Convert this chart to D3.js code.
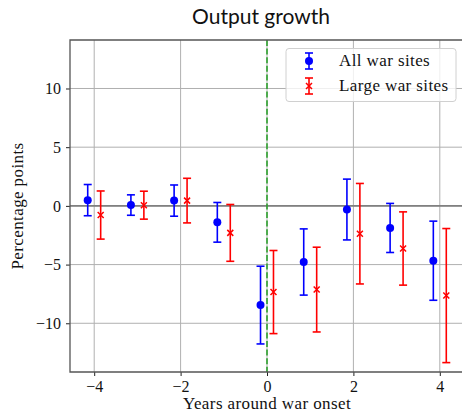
<!DOCTYPE html>
<html>
<head>
<meta charset="utf-8">
<script src="https://cdn.jsdelivr.net/npm/d3@7/dist/d3.min.js"></script>
<style>
  html, body { margin: 0; padding: 0; background: #fff; }
  svg { display: block; }
</style>
</head>
<body>
<svg id="chart" width="462" height="414"></svg>
<script>
// Event-study estimates: years relative to war onset
const years = [-4, -3, -2, -1, 0, 1, 2, 3, 4];

// All war sites: point estimate and half-width of the confidence interval
const allSites = [0.49, 0.07, 0.45, -1.40, -8.45, -4.78, -0.31, -1.88, -4.67];
const allSitesErr = [1.33, 0.87, 1.33, 1.69, 3.31, 2.82, 2.59, 2.09, 3.37];

// Large war sites
const largeSites = [-0.78, 0.06, 0.45, -2.30, -7.34, -7.13, -2.37, -3.63, -7.64];
const largeSitesErr = [2.05, 1.19, 1.90, 2.42, 3.54, 3.61, 4.28, 3.12, 5.71];

const xTicks = [-4, -2, 0, 2, 4];
const yTicks = [-10, -5, 0, 5, 10];

const title = "Output growth";
const xLabel = "Years around war onset";
const yLabel = "Percentage points";
const seriesNames = ["All war sites", "Large war sites"];

const svg = d3.select("#chart");
const plot = { left: 70, right: 464, top: 40, bottom: 372 };

const x = d3.scaleLinear().domain([-4.56, 4.56]).range([plot.left, plot.right]);
const y = d3.scaleLinear().domain([-14.15, 14.13]).range([plot.bottom, plot.top]);

const serif = "'Liberation Serif', 'Times New Roman', serif";
const sans = "Lato, 'Open Sans', sans-serif";

// Grid
const grid = svg.append("g");
grid.selectAll("line.vx").data(xTicks).join("line")
  .attr("x1", d => x(d)).attr("x2", d => x(d))
  .attr("y1", plot.top).attr("y2", plot.bottom)
  .attr("stroke", "#b0b0b0").attr("stroke-width", 1);
grid.selectAll("line.hy").data(yTicks).join("line")
  .attr("x1", plot.left).attr("x2", plot.right)
  .attr("y1", d => y(d)).attr("y2", d => y(d))
  .attr("stroke", "#b0b0b0").attr("stroke-width", 1);

// Zero reference line
svg.append("line")
  .attr("x1", plot.left).attr("x2", plot.right)
  .attr("y1", y(0)).attr("y2", y(0))
  .attr("stroke", "#808080").attr("stroke-width", 1.6);

// War onset marker
svg.append("line")
  .attr("x1", x(0)).attr("x2", x(0))
  .attr("y1", plot.top).attr("y2", plot.bottom)
  .attr("stroke", "#2ca02c").attr("stroke-width", 1.6)
  .attr("stroke-dasharray", "6,2.6");

// Axes
const xAxis = d3.axisBottom(x).tickValues(xTicks).tickSize(4).tickPadding(5)
  .tickFormat(d => d < 0 ? "\u2212" + Math.abs(d) : d);
const yAxis = d3.axisLeft(y).tickValues(yTicks).tickSize(4).tickPadding(5)
  .tickFormat(d => d < 0 ? "\u2212" + Math.abs(d) : d);

const gx = svg.append("g").attr("transform", `translate(0,${plot.bottom})`).call(xAxis);
const gy = svg.append("g").attr("transform", `translate(${plot.left},0)`).call(yAxis);
[gx, gy].forEach(g => {
  g.select(".domain").remove();
  g.selectAll(".tick line").attr("stroke", "#222").attr("stroke-width", 1);
  g.selectAll(".tick text").attr("fill", "#111")
    .style("font-family", serif).style("font-size", "16px");
});

// Frame
svg.append("path")
  .attr("d", `M${plot.right},${plot.top}H${plot.left}V${plot.bottom}H${plot.right}`)
  .attr("fill", "none").attr("stroke", "#555").attr("stroke-width", 1.3);

// Error bars
const offset = 0.15;
const cap = 4;
function drawSeries(vals, errs, dx, color, marker) {
  const g = svg.append("g");
  const data = years.map((yr, i) => ({ yr, v: vals[i], e: errs[i] }));
  const bars = g.selectAll("g").data(data).join("g")
    .attr("transform", d => `translate(${x(d.yr + dx)},0)`);
  bars.append("line")
    .attr("y1", d => y(d.v + d.e)).attr("y2", d => y(d.v - d.e))
    .attr("stroke", color).attr("stroke-width", 1.6);
  bars.append("line")
    .attr("x1", -cap).attr("x2", cap)
    .attr("y1", d => y(d.v + d.e)).attr("y2", d => y(d.v + d.e))
    .attr("stroke", color).attr("stroke-width", 1.6);
  bars.append("line")
    .attr("x1", -cap).attr("x2", cap)
    .attr("y1", d => y(d.v - d.e)).attr("y2", d => y(d.v - d.e))
    .attr("stroke", color).attr("stroke-width", 1.6);
  if (marker === "dot") {
    bars.append("circle").attr("cy", d => y(d.v)).attr("r", 4).attr("fill", color);
  } else {
    bars.append("path")
      .attr("d", d => { const c = y(d.v), s = 3; return `M${-s},${c - s}L${s},${c + s}M${-s},${c + s}L${s},${c - s}`; })
      .attr("stroke", color).attr("stroke-width", 1.5).attr("fill", "none");
  }
}
drawSeries(allSites, allSitesErr, -offset, "#0000ff", "dot");
drawSeries(largeSites, largeSitesErr, offset, "#ff0000", "x");

// Legend
const leg = svg.append("g");
leg.append("rect")
  .attr("x", 286).attr("y", 48.5).attr("width", 170).attr("height", 53)
  .attr("rx", 3).attr("fill", "#fff").attr("fill-opacity", 0.8)
  .attr("stroke", "#d0d0d0").attr("stroke-width", 1);
const legRows = [
  { name: seriesNames[0], color: "#0000ff", marker: "dot", cy: 61 },
  { name: seriesNames[1], color: "#ff0000", marker: "x", cy: 86 }
];
legRows.forEach(r => {
  const g = leg.append("g").attr("transform", `translate(309,${r.cy})`);
  g.append("line").attr("y1", -8).attr("y2", 8).attr("stroke", r.color).attr("stroke-width", 1.6);
  g.append("line").attr("x1", -cap).attr("x2", cap).attr("y1", -8).attr("y2", -8).attr("stroke", r.color).attr("stroke-width", 1.6);
  g.append("line").attr("x1", -cap).attr("x2", cap).attr("y1", 8).attr("y2", 8).attr("stroke", r.color).attr("stroke-width", 1.6);
  if (r.marker === "dot") {
    g.append("circle").attr("r", 4).attr("fill", r.color);
  } else {
    g.append("path").attr("d", "M-3,-3L3,3M-3,3L3,-3").attr("stroke", r.color).attr("stroke-width", 1.5);
  }
  leg.append("text").attr("x", 339).attr("y", r.cy + 5)
    .style("font-family", serif).style("font-size", "17px").style("letter-spacing", "0.4px")
    .attr("fill", "#111")
    .text(r.name);
});

// Titles
svg.append("text").attr("x", 261).attr("y", 24).attr("text-anchor", "middle")
  .style("font-family", sans).style("font-size", "21px").attr("fill", "#111")
  .text(title);
svg.append("text").attr("x", 267).attr("y", 409).attr("text-anchor", "middle")
  .style("font-family", serif).style("font-size", "17px").style("letter-spacing", "0.4px")
  .attr("fill", "#111")
  .text(xLabel);
svg.append("text").attr("transform", "translate(23,206) rotate(-90)").attr("text-anchor", "middle")
  .style("font-family", serif).style("font-size", "17px").style("letter-spacing", "0.4px")
  .attr("fill", "#111")
  .text(yLabel);
</script>
</body>
</html>
